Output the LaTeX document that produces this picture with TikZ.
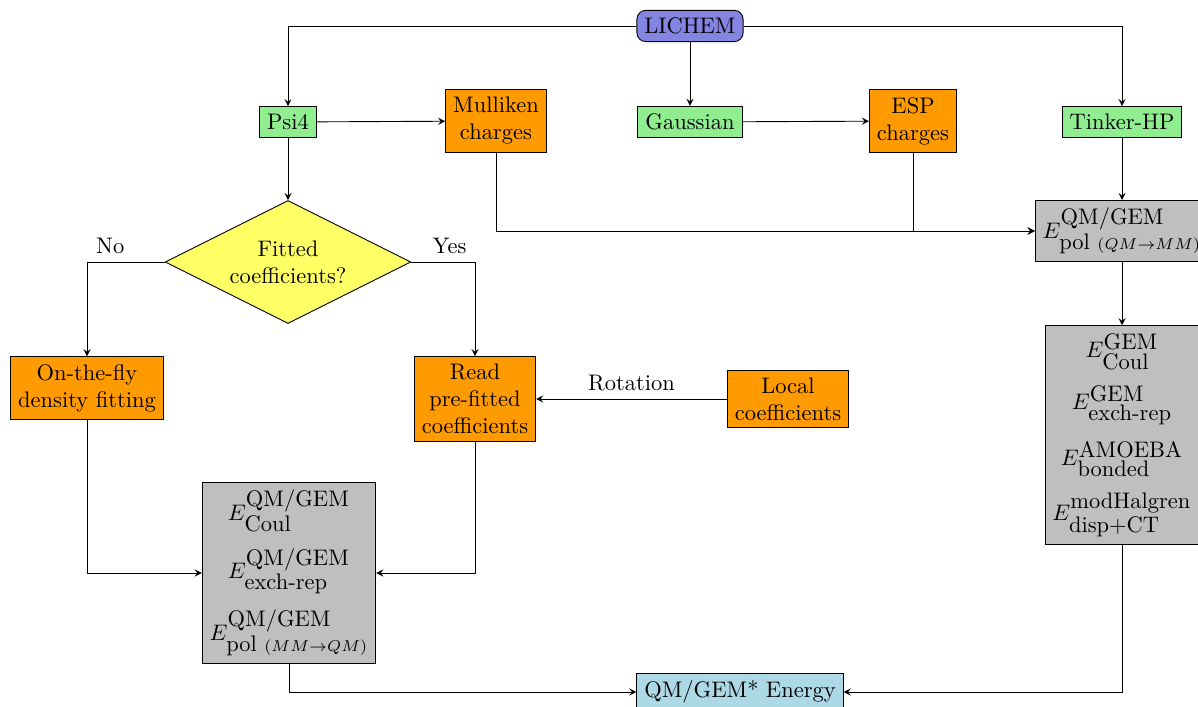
\documentclass[tikz,border=0pt]{standalone}
\usepackage{amsmath}
\usepackage{amssymb}
\usepackage{tikz}
\usetikzlibrary{shapes.geometric}
\tikzset{>=stealth}
\definecolor{lichemblue}{RGB}{132,132,226}
\definecolor{codegreen}{RGB}{144,238,144}
\definecolor{dataorange}{RGB}{255,155,0}
\definecolor{askyellow}{RGB}{255,255,102}
\definecolor{termgray}{RGB}{191,191,191}
\definecolor{resultblue}{RGB}{173,216,230}

\begin{document}
\begin{tikzpicture}[x=0.01562cm,y=-0.01562cm,
    prog/.style={draw,fill=codegreen},
    data/.style={draw,fill=dataorange,align=center},
    terms/.style={draw,fill=termgray,align=center},
    ask/.style={draw,fill=askyellow,diamond,aspect=2,inner sep=3.2pt,align=center}]
    \useasboundingbox (0,0) rectangle (1198,707);
    % set up the nodes
    \node[draw,rounded corners=4pt,fill=lichemblue] (lichem) at (690,26) {LICHEM};
    \node[prog] (psi) at (288,122) {Psi4};
    \node[data] (mull) at (496,121) {Mulliken\\charges};
    \node[prog] (gauss) at (690,122) {Gaussian};
    \node[data] (esp) at (913,121) {ESP\\charges};
    \node[prog] (tinker) at (1122,122) {Tinker-HP};
    \node[ask] (fit) at (288,262) {Fitted\\coefficients?};
    \node[terms] (epol) at (1122,231)
        {$E^{\mbox{QM/GEM}}_{\mbox{pol $\scriptstyle(QM\rightarrow MM)$}}$};
    \node[terms] (egem) at (1122,435)
        {$E^{\mbox{GEM}}_{\mbox{Coul}}$\\[6pt]
         $E^{\mbox{GEM}}_{\mbox{exch-rep}}$\\[6pt]
         $E^{\mbox{AMOEBA}}_{\mbox{bonded}}$\\[6pt]
         $E^{\mbox{modHalgren}}_{\mbox{disp+CT}}$};
    \node[data] (otf) at (87,388) {On-the-fly\\density fitting};
    \node[data] (read) at (475,399) {Read\\pre-fitted\\coefficients};
    \node[data] (local) at (788,399) {Local\\coefficients};
    \node[terms] (eqm) at (289,573)
        {$E^{\mbox{QM/GEM}}_{\mbox{Coul}}$\\[6pt]
         $E^{\mbox{QM/GEM}}_{\mbox{exch-rep}}$\\[6pt]
         $E^{\mbox{QM/GEM}}_{\mbox{pol $\scriptstyle(MM\rightarrow QM)$}}$};
    \node[draw,fill=resultblue] (energy) at (740,692) {QM/GEM* Energy};
    % draw arrows and text between them
    \draw[->] (lichem) -| (psi);
    \draw[->] (lichem) -- (gauss);
    \draw[->] (lichem) -| (tinker);
    \draw[->] (psi) -- (mull);
    \draw[->] (gauss) -- (esp);
    \draw[->] (psi) -- (fit);
    \draw[->] (mull) |- (epol);
    \draw[->] (esp) |- (epol);
    \draw[->] (tinker) -- (epol);
    \draw[->] (epol) -- (egem);
    \draw[->] (fit.west) -| (otf) node [pos=0.35,above] {No};
    \draw[->] (fit.east) -| (read) node [pos=0.3,above] {Yes};
    \draw[->] (local) -- (read) node [midway,above] {Rotation};
    \draw[->] (otf) |- (eqm);
    \draw[->] (read) |- (eqm);
    \draw[->] (eqm) |- (energy);
    \draw[->] (egem) |- (energy);
\end{tikzpicture}
\end{document}
